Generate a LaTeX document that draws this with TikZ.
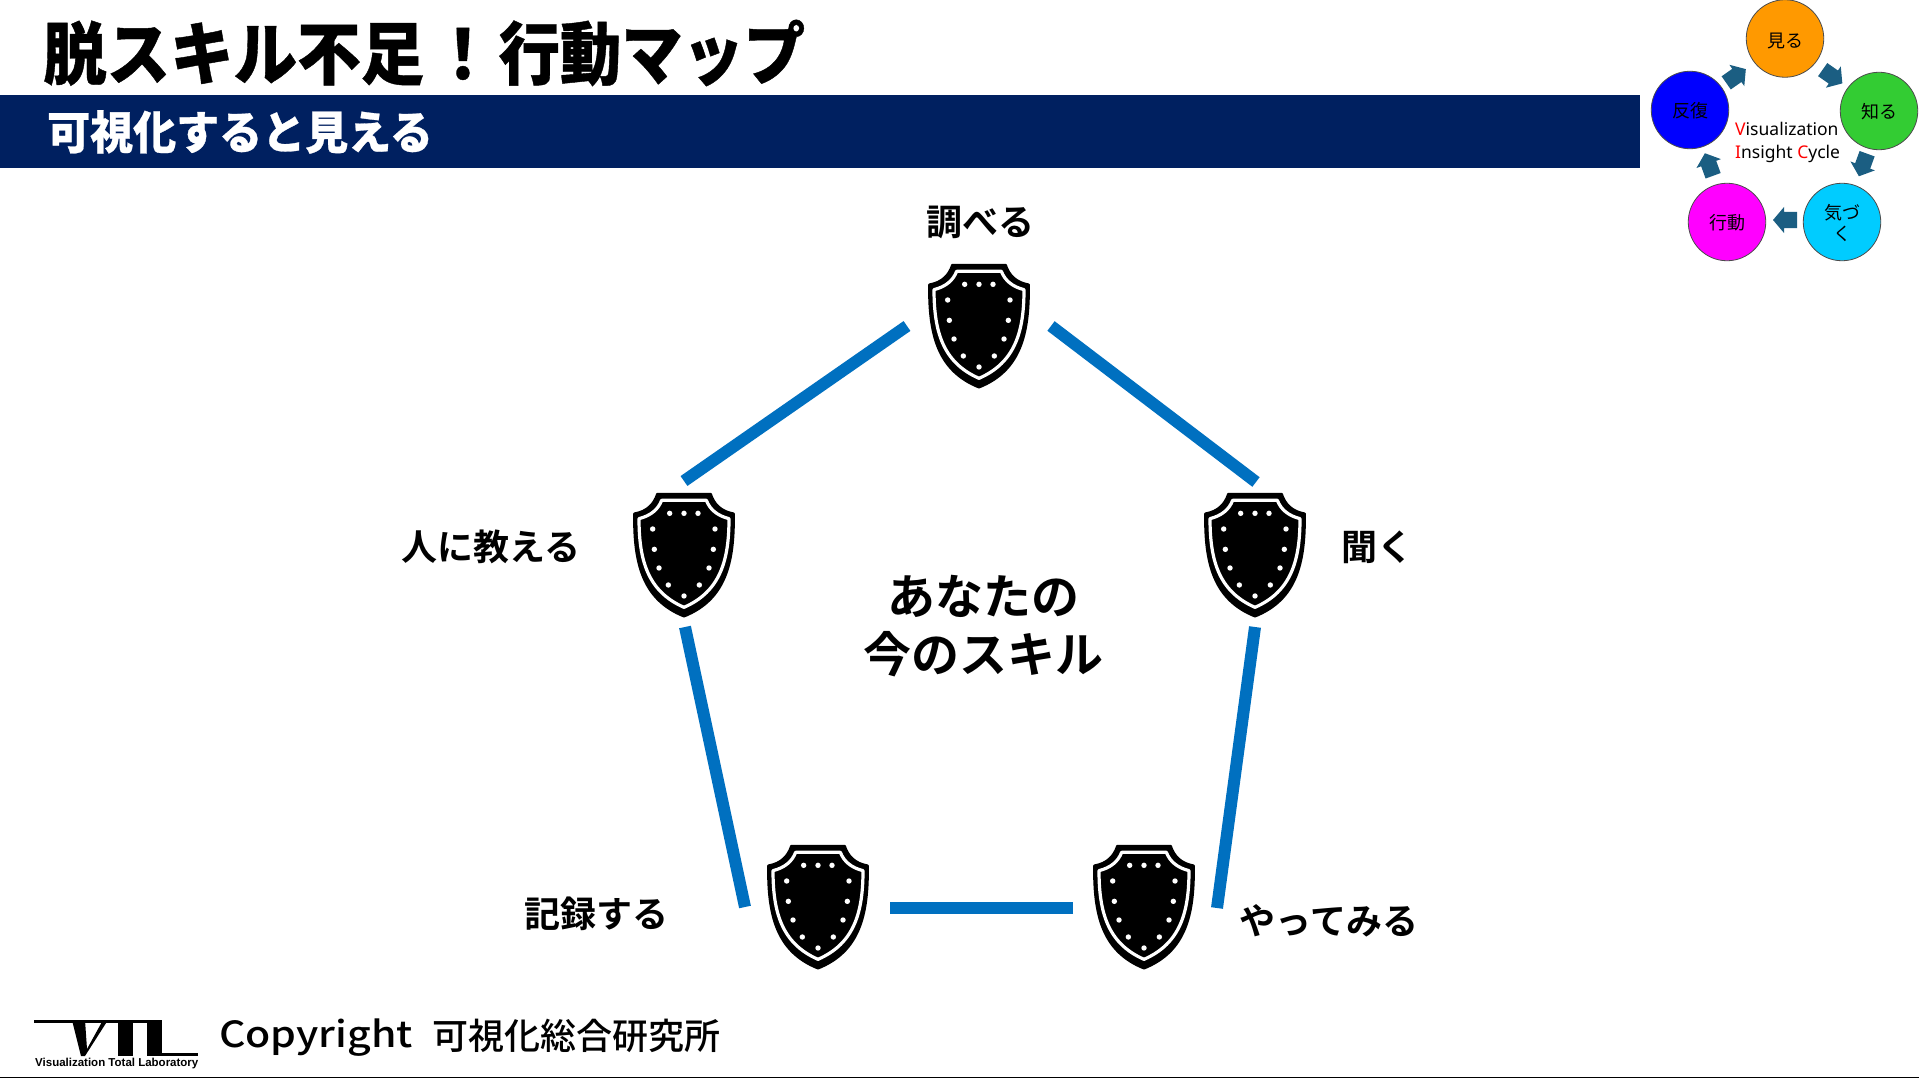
\documentclass[tikz,border=0pt]{standalone}
\usepackage{fontspec}
\setmainfont{Noto Sans CJK JP}
\newfontfamily\jpreg{Noto Sans CJK JP}
\newfontfamily\jpmed{Noto Sans CJK JP Medium}
\newfontfamily\jpbold{Noto Sans CJK JP Bold}
\newfontfamily\jpblack[FakeBold=0.6]{Noto Sans CJK JP Black}
\newfontfamily\latinf{Noto Sans}
\newfontfamily\logof{Liberation Sans}
\definecolor{navyband}{HTML}{002060}
\definecolor{linkblue}{HTML}{0070C0}
\definecolor{arrowteal}{HTML}{1B5E82}
\newcommand{\fsz}[1]{\fontsize{#1}{#1}\selectfont}
\newcommand{\shieldicon}[3]{%
  \begin{scope}[shift={(#2pt,-#3pt)},x=0.3333pt,y=-0.3333pt]
    \coordinate (#1) at (0,186);
    \fill[black,draw=black,line width=2.4pt,line join=round]
      (-80,3) -- (80,3) .. controls (90,33) and (110,55) .. (149,62)
      .. controls (151,210) and (125,320) .. (0,370)
      .. controls (-125,320) and (-151,210) .. (-149,62)
      .. controls (-110,55) and (-90,33) .. (-80,3) -- cycle;
    \draw[white,line width=3.2pt,line join=round]
      (-67,22) -- (67,22) .. controls (78,50) and (100,68) .. (135,77)
      .. controls (135,200) and (110,295) .. (0,343)
      .. controls (-110,295) and (-135,200) .. (-135,77)
      .. controls (-100,68) and (-78,50) .. (-67,22) -- cycle;
    \foreach \dx/\dy in {-43/61,0/61,42/61,-94/108,93/108,-89/169,88/169,-75/225,75/225,-47/276,46/276,0/309}
      \fill[white] (\dx,\dy) circle (2.7pt);
  \end{scope}}
\newcommand{\blockarrow}[3]{%
  \fill[arrowteal,shift={(#1pt,-#2pt)},rotate=#3]
    (-12pt,-8pt) -- (1pt,-8pt) -- (1pt,-13pt) -- (12pt,0pt) -- (1pt,13pt) -- (1pt,8pt) -- (-12pt,8pt) -- cycle;}
\tikzset{
  link/.style={linkblue,line width=12pt},
  cyc/.style={circle,draw=black!70,line width=0.8pt,minimum size=77.5pt,inner sep=0pt,align=center,font=\jpreg\fsz{18},text=black},
  cyctext/.style={inner sep=0pt,align=center,font=\jpreg\fsz{18},text=black},
  skill/.style={font=\jpbold\fsz{36},text=black,inner sep=0pt},
  centerlabel/.style={font=\jpbold\fsz{48},text=black,inner sep=0pt}
}
\begin{document}
\begin{tikzpicture}[x=1pt,y=-1pt]
\useasboundingbox (0,0) rectangle (1919,1078);
\fill[white] (0,0) rectangle (1919,1078);
% header
\fill[navyband] (0,95) rectangle (1640,168);
\node[anchor=west,inner sep=0pt,font=\jpblack\fsz{63.5},yscale=1.08] (title) at (43,53) {脱スキル不足\kern7pt！\kern4pt\scalebox{0.965}[1]{行動マップ}};
\node[anchor=west,inner sep=0pt,font=\jpblack\fsz{43},text=white,yscale=1.06] (subtitle) at (47,132) {可視化すると見える};
% cycle
\node[cyc,fill={rgb,255:red,255;green,153;blue,0}] (c1) at (1785,38.5) {};
\node[cyc,fill={rgb,255:red,51;green,204;blue,51}] (c2) at (1879,111) {};
\node[cyc,fill={rgb,255:red,0;green,204;blue,255}] (c3) at (1842,222) {};
\node[cyc,fill={rgb,255:red,255;green,0;blue,255}] (c4) at (1727,222) {};
\node[cyc,fill={rgb,255:red,0;green,0;blue,255}] (c5) at (1690,110) {};
\node[cyctext] (t1) at (1785,40.5) {見る};
\node[cyctext] (t2) at (1879,111.5) {知る};
\node[cyctext] (t3) at (1842,223.5) {気づ\\[3pt]く};
\node[cyctext] (t4) at (1727,223) {行動};
\node[cyctext] (t5) at (1690,111) {反復};
\blockarrow{1736}{76}{35}
\blockarrow{1832.5}{76.5}{-35}
\blockarrow{1863}{165}{-110}
\blockarrow{1785}{220}{180}
\blockarrow{1709}{164.5}{110}
\node[anchor=west,inner sep=0pt,font=\latinf\fsz{17.5}] (cv) at (1735,129) {\textcolor{red}{V}isualization};
\node[anchor=west,inner sep=0pt,font=\latinf\fsz{17.5}] (ci) at (1735,154) {\textcolor{red}{I}nsight \textcolor{red}{C}ycle};
% shields
\shieldicon{s1}{979}{264}
\shieldicon{s2}{1255}{493}
\shieldicon{s3}{1144}{845}
\shieldicon{s4}{818}{845}
\shieldicon{s5}{684}{493}
% link ends
\coordinate (a1) at (907,326); \coordinate (a2) at (684,481);
\coordinate (b1) at (1051,326); \coordinate (b2) at (1256,482);
\coordinate (d1) at (1255,627); \coordinate (d2) at (1217,908);
\coordinate (e1) at (1073,908); \coordinate (e2) at (890,908);
\coordinate (f1) at (745,907); \coordinate (f2) at (685,627);
\draw[link] (a1) -- (a2);
\draw[link] (b1) -- (b2);
\draw[link] (d1) -- (d2);
\draw[link] (e1) -- (e2);
\draw[link] (f1) -- (f2);
% labels
\node[skill] (l1) at (980,222) {調べる};
\node[skill] (l2) at (1377,547) {聞く};
\node[skill] (l3) at (1329,921) {やってみる};
\node[skill] (l4) at (596,914) {記録する};
\node[skill] (l5) at (491,547) {人に教える};
\node[centerlabel] (m1) at (983,596) {あなたの};
\node[centerlabel] (m2) at (983,654) {今のスキル};
% footer logo
\fill[black] (34,1020) rectangle (162,1022.6);
\fill[black] (72,1020) -- (85,1020) -- (87,1049) -- (103,1020) -- (108,1020) -- (85,1056) -- (81,1056) -- cycle;
\fill[black] (118,1020) rectangle (133,1056);
\fill[black] (147,1020) rectangle (162,1056);
\fill[black] (147,1052.5) rectangle (198,1056);
\node[anchor=west,inner sep=0pt,font=\logof\bfseries\fsz{11.5}] (logotext) at (35,1064) {Visualization Total Laboratory};
\node[anchor=west,inner sep=0pt,font=\jpmed\fsz{36},xscale=1.14] (copy) at (219,1037.5) {Copyright};
\node[anchor=west,inner sep=0pt,font=\jpmed\fsz{36}] (org) at (432,1036) {可視化総合研究所};
\fill[black] (0,1076.6) rectangle (1919,1078);
\end{tikzpicture}
\end{document}
